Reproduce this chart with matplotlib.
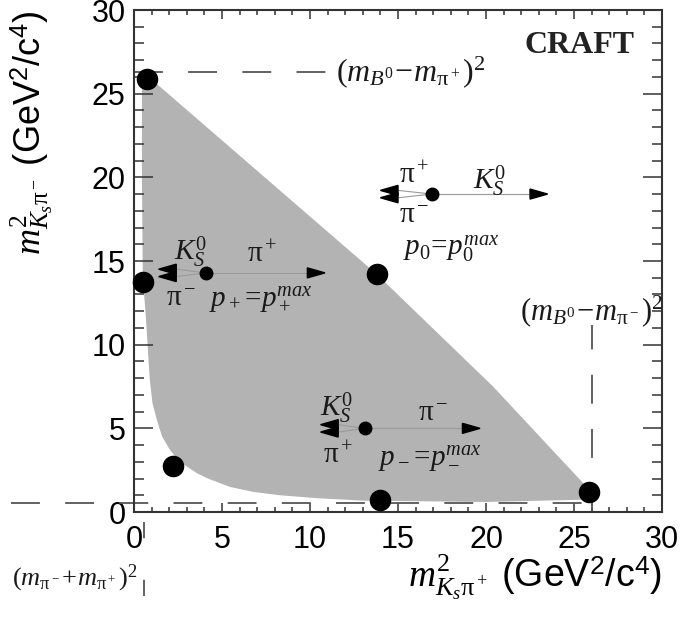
import matplotlib
matplotlib.use("Agg")
import matplotlib.pyplot as plt
from matplotlib.patches import Polygon

plt.rcParams['font.family'] = ['Liberation Sans', 'DejaVu Sans']
plt.rcParams['mathtext.fontset'] = 'custom'
plt.rcParams['mathtext.rm'] = 'Liberation Serif'
plt.rcParams['mathtext.it'] = 'Liberation Serif:italic'
plt.rcParams['mathtext.sf'] = 'Liberation Sans'
plt.rcParams['mathtext.bf'] = 'Liberation Serif:bold'

# Dalitz region boundary (m2 K_s pi+, m2 K_s pi-)
edge_x = [0.45, 7.1, 13.8, 20.4, 25.9, 26.0, 20.0, 13.0, 10.5, 8.3, 6.8,
          5.45, 4.2, 3.56, 2.6, 2.05, 1.6, 1.3, 1.05, 0.9, 0.8, 0.72, 0.65,
          0.5, 0.45]
edge_y = [26.35, 20.3, 14.2, 7.5, 1.3, 0.75, 0.6, 0.68, 0.82, 1.0, 1.2,
          1.5, 2.0, 2.33, 3.0, 3.7, 4.5, 5.5, 6.5, 7.9, 9.5, 10.9, 12.0,
          14.0, 20.0]

# corner / edge points (big dots)
dot_x = [0.75, 0.5, 13.8, 2.2, 14.0, 25.85]
dot_y = [25.9, 13.75, 14.2, 2.75, 0.7, 1.2]

# kinematic limits
m_max = 26.3      # (m_B - m_pi)^2 on y
m_max_x = 26.0    # (m_B - m_pi)^2 on x
m_min = 0.55      # (m_pi + m_pi)^2 line
m_min_x = 0.57

# momentum-configuration sketches: dot, right arrow end, left arrows end
conf_x = [4.09, 16.93, 13.1]
conf_y = [14.29, 19.0, 5.0]
conf_right = [10.85, 23.5, 19.66]
conf_left = [1.4, 14.0, 10.6]

PI = r'\mathrm{\pi}'
conf_labels = [
    # (text, x, y)
    [(r'$K^0_S$', 3.2, 15.5), (r'$' + PI + '^+$', 7.3, 15.4),
     (r'$' + PI + '^-$', 2.7, 12.8), (r'$p_+\!=\!p_+^{max}$', 7.2, 12.7)],
    [(r'$' + PI + '^+$', 15.9, 20.1), (r'$K^0_S$', 20.2, 19.8),
     (r'$' + PI + '^-$', 15.9, 17.75), (r'$p_0\!=\!p_0^{max}$', 18.0, 15.7)],
    [(r'$K^0_S$', 11.5, 6.2), (r'$' + PI + '^-$', 17.0, 5.9),
     (r'$' + PI + '^+$', 11.6, 3.4), (r'$p_-\!=\!p_-^{max}$', 16.8, 3.2)],
]

fig = plt.figure(figsize=(6.83, 6.37), dpi=100)
ax = fig.add_axes([0.1962, 0.1962, 0.7731, 0.7881])
ax.set_xlim(0, 30)
ax.set_ylim(0, 30)

ax.add_patch(Polygon(list(zip(edge_x, edge_y)), closed=True,
                     facecolor='#b3b3b3', edgecolor='none', zorder=1))

dash_kw = dict(color='#555555', lw=1.3, zorder=2, clip_on=False)
ax.plot([0, 11.5], [m_max, m_max], ls=(0, (16, 14)), **dash_kw)
ax.plot([m_max_x, m_max_x], [0, 11.2], ls=(0, (16, 14)), **dash_kw)
ax.plot([-7.0, m_max_x], [m_min, m_min], ls=(0, (16, 14)), **dash_kw)
ax.plot([m_min_x, m_min_x], [-0.6, -8.6], ls=(0, (9, 23)), **dash_kw)

ax.plot(dot_x, dot_y, 'o', color='black', ms=14.5, zorder=5, clip_on=False)

# sketches
hl, hw = 1.0, 0.3
for i in range(len(conf_x)):
    x0, y0 = conf_x[i], conf_y[i]
    xr, xl = conf_right[i], conf_left[i]
    ax.plot([x0, xr - hl], [y0, y0], color='#9a9a9a', lw=0.8, zorder=3)
    ax.add_patch(Polygon([(xr, y0), (xr - hl, y0 + hw), (xr - hl, y0 - hw)],
                         closed=True, color='black', zorder=4))
    for dy in (0.22, -0.22):
        ax.plot([x0, xl + hl], [y0, y0 + dy], color='#9a9a9a', lw=0.8, zorder=3)
        ax.add_patch(Polygon([(xl, y0 + dy), (xl + hl, y0 + dy + hw),
                              (xl + hl, y0 + dy - hw)],
                             closed=True, color='black', zorder=4))
    ax.plot([x0], [y0], 'o', color='black', ms=9, zorder=5)
    for txt, tx, ty in conf_labels[i]:
        ax.text(tx, ty, txt, fontsize=21, ha='center', va='center',
                color='#1a1a1a', zorder=6)

ax.text(11.5, m_max, r'$(m_{B^0}\!-\!m_{' + PI + '^+})^2$', fontsize=23,
        ha='left', va='center', color='#1a1a1a')
ax.text(m_max_x, 12.0, r'$(m_{B^0}\!-\!m_{' + PI + '^-})^2$', fontsize=22,
        ha='center', va='center', color='#1a1a1a')
ax.text(-3.4, -3.95, r'$(m_{' + PI + '^-}\!+\!m_{' + PI + '^+})^2$', fontsize=19,
        ha='center', va='center', color='#1a1a1a', clip_on=False)
ax.text(25.3, 27.9, 'CRAFT', fontsize=23, ha='center', va='center',
        family='Liberation Serif', weight='bold', color='#222222')

ax.set_xticks(range(0, 31, 5))
ax.set_yticks(range(0, 31, 5))
ax.set_xticks(range(0, 31), minor=True)
ax.set_yticks(range(0, 31), minor=True)
ax.tick_params(which='both', direction='in', top=True, right=True,
               labelsize=22, color='#333333', width=1.1)
ax.tick_params(axis='x', which='major', length=6.5, pad=9)
ax.tick_params(axis='x', which='minor', length=3.6)
ax.tick_params(axis='y', which='major', length=13.5, pad=6)
ax.tick_params(axis='y', which='minor', length=7)
for s in ax.spines.values():
    s.set_linewidth(1.5)
    s.set_color('#333333')

ax.set_xlabel(r'$m^2_{K_s' + PI + r'^+}$ (GeV$^\mathsf{2}$/c$^\mathsf{4}$)',
              fontsize=27, loc='right')
ax.set_ylabel(r'$m^2_{K_s' + PI + r'^-}$ (GeV$^\mathsf{2}$/c$^\mathsf{4}$)',
              fontsize=26, loc='top')
ax.xaxis.set_label_coords(1.0, -0.08)
ax.yaxis.set_label_coords(-0.15, 1.0)

fig.savefig('out.png', dpi=100)
